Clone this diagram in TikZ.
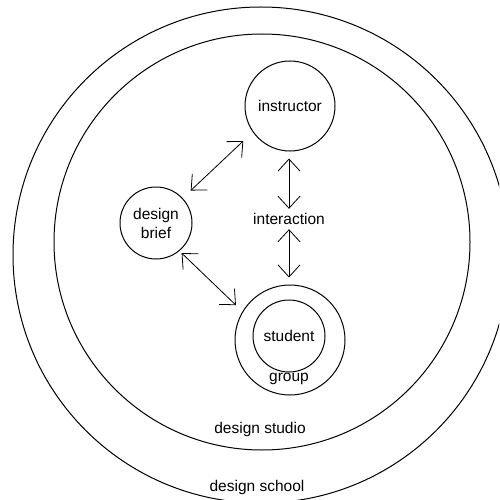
\documentclass[tikz,border=0pt]{standalone}
\usepackage{fontspec}
\setmainfont{Liberation Sans}
\usetikzlibrary{arrows.meta}
\begin{document}
\begin{tikzpicture}[x=1pt,y=-1pt, line width=1pt,
  circ/.style={draw, circle, inner sep=0pt},
  lbl/.style={font=\fontsize{15.5}{19}\selectfont, inner sep=2pt, align=center},
  dbl/.style={{Straight Barb[length=12pt,width=22pt]}-{Straight Barb[length=12pt,width=22pt]}, line width=0.8pt}]
\useasboundingbox (0,0) rectangle (499,500);
\begin{scope}
\clip (0,0) rectangle (499,500);
\node[circ, minimum size=496pt] (school) at (261,255) {};
\end{scope}
\node[circ, minimum size=416pt] (studio) at (262,242) {};
\node[circ, minimum size=90pt] (instr) at (290,106) {};
\node[lbl] at (instr.center) {instructor};
\node[circ, minimum size=72pt] (brief) at (156,223) {};
\node[lbl] at (brief.center) {design\\brief};
\node[circ, minimum size=110pt] (group) at (290,340) {};
\node[circ, minimum size=72pt] (student) at (289,336) {};
\node[lbl] at (student.center) {student};
\node[lbl] (grouplbl) at (289,379) {group};
\node[lbl] (inter) at (289,219) {interaction};
\node[lbl] (studiolbl) at (260,429) {design studio};
\node[lbl] (schoollbl) at (257,487) {design school};
% connectors
\draw[dbl, shorten <=13pt, shorten >=11pt] (instr.215) -- (brief.43);
\draw[dbl, shorten <=3pt, shorten >=9pt] (brief.-50) -- (group.149);
\draw[dbl, shorten <=7pt, shorten >=2pt] (instr.south -| inter.north) -- (inter.north);
\draw[dbl, shorten <=2pt, shorten >=7pt] (inter.south) -- (group.north -| inter.south);
\end{tikzpicture}
\end{document}
